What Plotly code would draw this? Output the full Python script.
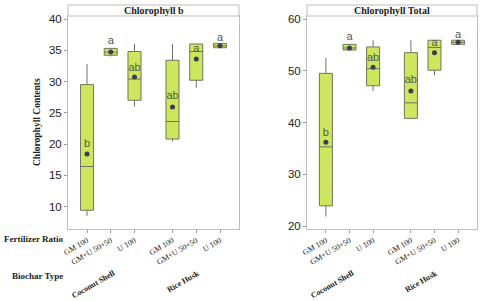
import plotly.graph_objects as go

# fertilizer ratio / biochar type categories
ratios = ["GM 100", "GM+U 50+50", "U 100"]
biochars = ["Coconut Shell", "Rice Husk"]

# Chlorophyll b: box statistics per treatment (CS x3, RH x3)
chl_b_low = [8.5, 34.0, 26.0, 20.4, 29.0, 35.4]
chl_b_q1 = [9.4, 34.2, 27.0, 20.8, 30.2, 35.4]
chl_b_med = [16.4, 34.7, 30.4, 23.6, 34.8, 35.7]
chl_b_q3 = [29.5, 35.3, 34.8, 33.4, 36.0, 36.1]
chl_b_high = [32.8, 35.3, 36.0, 36.0, 36.0, 36.1]
chl_b_mean = [18.4, 34.7, 30.7, 25.9, 33.6, 35.7]
chl_b_letters = ["b", "a", "ab", "ab", "a", "a"]
chl_b_letter_y = [20.0, 36.5, 32.2, 27.6, 35.2, 37.0]

# Chlorophyll Total
chl_t_low = [21.8, 54.0, 46.1, 40.6, 49.1, 55.1]
chl_t_q1 = [23.9, 54.0, 47.1, 40.8, 50.1, 55.1]
chl_t_med = [35.3, 54.4, 50.4, 43.8, 54.5, 55.5]
chl_t_q3 = [49.5, 55.1, 54.6, 53.5, 55.9, 55.9]
chl_t_high = [52.5, 55.1, 55.9, 55.9, 55.9, 55.9]
chl_t_mean = [36.2, 54.4, 50.7, 46.1, 53.5, 55.5]
chl_t_letters = ["b", "a", "ab", "ab", "a", "a"]
chl_t_letter_y = [37.9, 56.4, 52.4, 48.2, 55.3, 56.9]

# x positions: ratio index plus a gap between biochar groups
GAP = 0.6
xpos = [i + g * (len(ratios) + GAP) for g in range(len(biochars)) for i in range(len(ratios))]
xlabels = ratios * len(biochars)

FILL = "#cde65e"
EDGE = "#6f7560"
SERIF = "Liberation Serif"
INK = "#222222"

fig = go.Figure()

panels = [
    ("x", "y", chl_b_low, chl_b_q1, chl_b_med, chl_b_q3, chl_b_high, chl_b_mean, chl_b_letters, chl_b_letter_y),
    ("x2", "y2", chl_t_low, chl_t_q1, chl_t_med, chl_t_q3, chl_t_high, chl_t_mean, chl_t_letters, chl_t_letter_y),
]
for xa, ya, lo, q1, med, q3, hi, mean, letters, ly in panels:
    fig.add_trace(go.Box(
        x=xpos, q1=q1, median=med, q3=q3, lowerfence=lo, upperfence=hi,
        xaxis=xa, yaxis=ya, width=0.55, whiskerwidth=0,
        fillcolor=FILL, line=dict(color=EDGE, width=1), showlegend=False,
        hoverinfo="skip"))
    # mean markers
    fig.add_trace(go.Scatter(
        x=xpos, y=mean, xaxis=xa, yaxis=ya, mode="markers",
        marker=dict(symbol="circle", size=5, color="#3b3d52"), showlegend=False))
    fig.add_trace(go.Scatter(
        x=xpos, y=ly, xaxis=xa, yaxis=ya, mode="text", text=letters,
        textfont=dict(family="Liberation Sans", size=11, color="#555555"),
        textposition="middle center", showlegend=False))

xcommon = dict(range=[-0.8, 6.4], tickvals=xpos, ticktext=xlabels, tickangle=-30,
               tickfont=dict(family=SERIF, size=8, color=INK),
               showline=True, mirror=True, linecolor="#bdbdbd", ticks="outside",
               ticklen=3, tickcolor="#9a9a9a", showgrid=False, zeroline=False,
               automargin=False)
ycommon = dict(tickfont=dict(family="Liberation Sans", size=11.5, color=INK),
               showline=True, mirror=True, linecolor="#bdbdbd", ticks="outside",
               ticklen=3, tickcolor="#9a9a9a", showgrid=False, zeroline=False,
               automargin=False)

ybot, ytop = 1 - 229 / 301, 1 - 16 / 301
hdr_top = 1 - 5 / 301
dom1 = [68 / 480, 239 / 480]
dom2 = [307 / 480, 477 / 480]

fig.update_layout(
    width=480, height=301, margin=dict(l=0, r=0, t=0, b=0, autoexpand=False),
    paper_bgcolor="white", plot_bgcolor="white",
    xaxis=dict(domain=dom1, anchor="y", **xcommon),
    yaxis=dict(domain=[ybot, ytop], anchor="x", range=[6.4, 40.48], tickvals=[10, 15, 20, 25, 30, 35, 40], **ycommon),
    xaxis2=dict(domain=dom2, anchor="y2", **xcommon),
    yaxis2=dict(domain=[ybot, ytop], anchor="x2", range=[19.42, 60.58], tickvals=[20, 30, 40, 50, 60], **ycommon),
)


def label(x, y, text, size, angle=0, xanchor="center"):
    fig.add_annotation(xref="paper", yref="paper", x=x / 480, y=1 - y / 301,
                       xanchor=xanchor, yanchor="middle", text="<b>" + text + "</b>",
                       textangle=angle, showarrow=False,
                       font=dict(family=SERIF, size=size, color=INK))


# panel headers
for dom, title in [(dom1, "Chlorophyll b"), (dom2, "Chlorophyll Total")]:
    fig.add_shape(type="rect", xref="paper", yref="paper", x0=dom[0], x1=dom[1],
                  y0=ytop, y1=hdr_top, line=dict(color="#bdbdbd", width=1), fillcolor="white")
    label((dom[0] + dom[1]) / 2 * 480, 10.5, title, 10)

label(37, 122, "Chlorophyll Contents", 9.5, angle=-90)
label(2, 239, "Fertilizer Ratio", 9, xanchor="left")
label(10, 276, "Biochar Type", 9, xanchor="left")

# biochar group labels under each panel
group_px = [[(93, 284), (183, 281)], [(332, 284), (421, 281)]]
for centres in group_px:
    for (px, py), name in zip(centres, biochars):
        label(px, py, name, 8, angle=-30)

fig.write_html("out.html", config={"displayModeBar": False},
               post_script="document.body.style.margin='0';")
